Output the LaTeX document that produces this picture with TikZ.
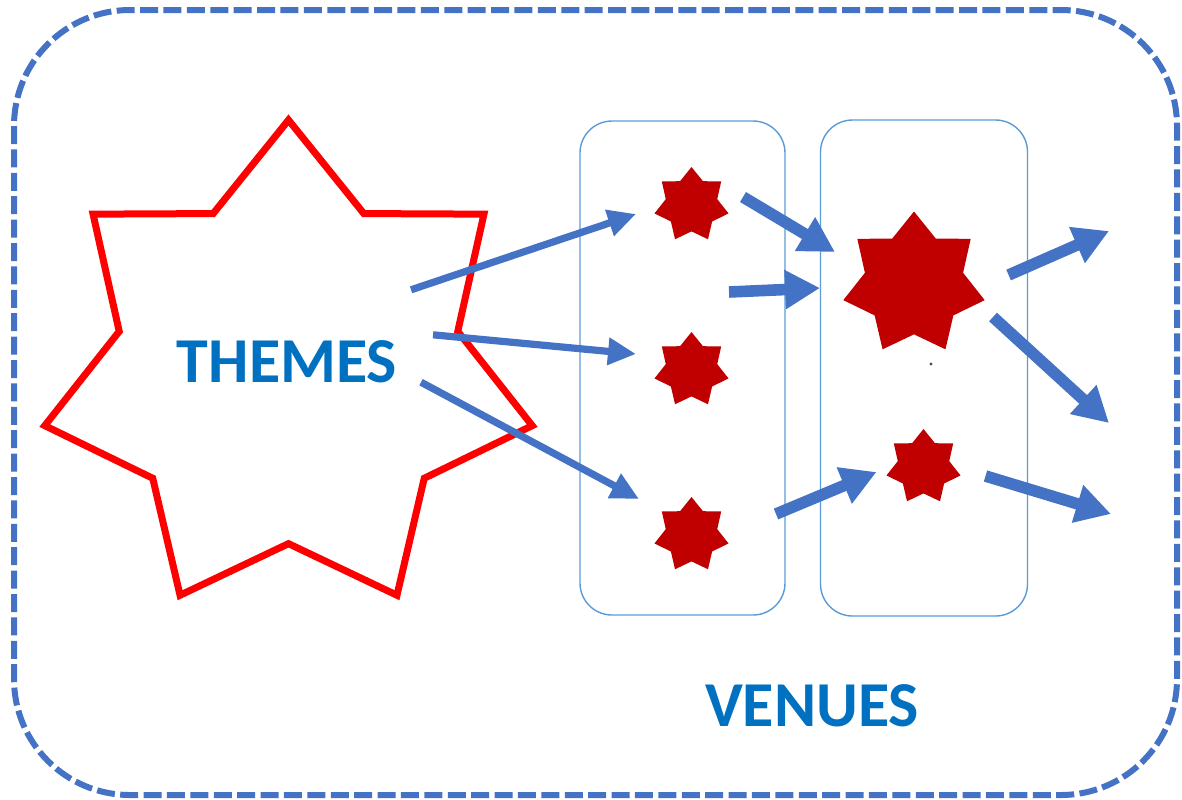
\documentclass[tikz,border=0pt]{standalone}
\usepackage{fontspec}
\setmainfont{Carlito}
\usepackage{tikz}
\usetikzlibrary{positioning,arrows.meta,shapes.geometric}

\definecolor{arrowblue}{HTML}{4472C4}
\definecolor{boxblue}{HTML}{5B9BD5}
\definecolor{starred}{HTML}{C00000}
\definecolor{textblue}{HTML}{0070C0}

\begin{document}
\begin{tikzpicture}[
            x=0.5pt, y=-0.5pt,
            outer sep=0pt,
            bigstar/.style={
                star, star points=7, star point ratio=1.44, minimum size=250pt, inner sep=0pt, draw=red, line width=3.5pt
            },
            venue/.style={
                star, star points=7, star point ratio=1.44, minimum size=38pt, inner sep=0pt, fill=starred
            },
            venuebox/.style={
                draw=boxblue, line width=0.7pt, rounded corners=16pt, minimum width=102.5pt, minimum height=247pt
            },
            heading/.style={
                text=textblue, font=\bfseries\fontsize{32}{38}\selectfont, inner sep=0pt
            },
            thinarrow/.style={
                draw=arrowblue, line width=3.6pt, -{Triangle[length=14pt,width=13pt]}
            },
            thickarrow/.style={
                draw=arrowblue, line width=5.8pt, -{Triangle[length=17.5pt,width=18.5pt]}
            },
            outerframe/.style={
                draw=arrowblue, line width=3pt, dash pattern=on 9pt off 2.7pt, rounded corners=58pt
            }
        ]
            \useasboundingbox (0,0) rectangle (1182,799);

            % --- KHUNG NGOAI ---
            \draw[outerframe] (14,10) rectangle (1177,795);

            % --- HAI COT ---
            \node[venuebox] (col1) at (682.5,368) {};
            \node[venuebox, minimum width=103.5pt, minimum height=248pt] (col2) at (924,368) {};

            % --- THEMES ---
            \node[bigstar] (themes) at (288.5,370) {};
            \node[heading] (themelabel) at (287,362) {THEMES};

            % --- CAC NGOI SAO ---
            \node[venue] (sA) at (691.5,205) {};
            \node[venue] (sB) at (691.5,370) {};
            \node[venue] (sC) at (691.5,535) {};
            \node[venue, minimum size=72.5pt] (sD) at (914,284) {};
            \node[venue] (sE) at (923.5,467) {};
            \fill[black!70] (931,364) circle (0.8pt);

            \node[heading] (venuelabel) at (812,706) {VENUES};

            % dau tu do cua mui ten
            \coordinate (gap) at (729,292);
            \coordinate (out1) at (1109,231);
            \coordinate (out2) at (1109,423);
            \coordinate (out3) at (1111,514);

            % --- MUI TEN ---
            \draw[thinarrow] ([shift={(14,-51)}]themelabel.north east) -- ([shift={(-55.5,9)}]sA.center);
            \draw[thinarrow] ([shift={(36,-6)}]themelabel.north east) -- ([shift={(-55.5,-16)}]sB.center);
            \draw[thinarrow] ([shift={(24,-1)}]themelabel.south east) -- ([shift={(-52.5,-36)}]sC.center);

            \draw[thickarrow] ([shift={(51.5,-8)}]sA.center) -- ([shift={(-79,-32)}]sD.center);
            \draw[thickarrow] (gap) -- ([shift={(-94,4)}]sD.center);
            \draw[thickarrow] ([shift={(84.5,-21)}]sC.center) -- ([shift={(-47,5)}]sE.center);

            \draw[thickarrow] ([shift={(94.6,-9)}]sD.center) -- (out1);
            \draw[thickarrow] ([shift={(79,33)}]sD.center) -- (out2);
            \draw[thickarrow] ([shift={(62,9)}]sE.center) -- (out3);

        \end{tikzpicture}
\end{document}
